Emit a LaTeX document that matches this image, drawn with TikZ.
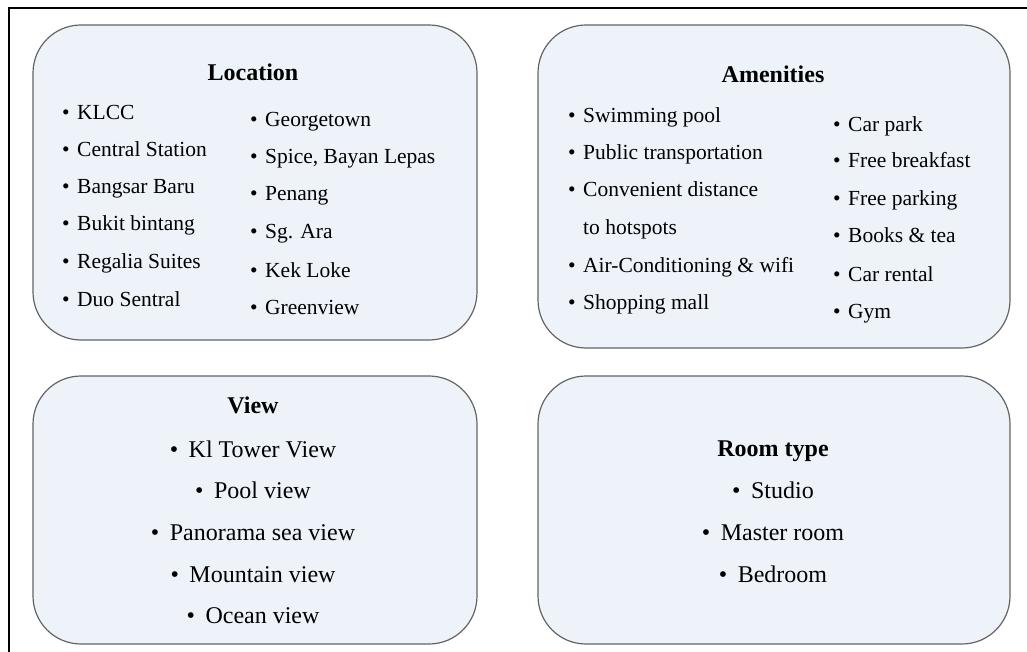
\documentclass[tikz,border=0pt]{standalone}
\usepackage{fontspec}
\setmainfont{Liberation Serif}
\definecolor{boxfill}{RGB}{238,243,250}
\definecolor{boxline}{RGB}{100,100,100}
\newcommand{\bitem}[1]{\makebox[15pt][l]{\textbullet}#1}
\newcommand{\citem}[1]{\makebox[19pt][l]{\textbullet}#1}
\begin{document}
\begin{tikzpicture}[x=1pt,y=-1pt,
  panel/.style={draw=boxline,fill=boxfill,line width=1.2pt,rounded corners=48pt},
  txt/.style={font=\fontsize{21.5}{25}\selectfont,inner sep=0pt},
  li/.style={txt,anchor=base west},
  ci/.style={inner sep=0pt,anchor=base,font=\fontsize{24}{28}\selectfont},
  ttl/.style={inner sep=0pt,anchor=base,font=\fontsize{24}{28}\selectfont\bfseries}]
\useasboundingbox (0,0) rectangle (1027,652);
\fill[white] (0,0) rectangle (1027,652);
\draw[line width=1.7pt] (9,652) -- (9,8) -- (1027,8);

% panels
\draw[panel] (33,25) rectangle (477,340);
\draw[panel] (538,25) rectangle (1010,348);
\draw[panel] (33,376) rectangle (477,644);
\draw[panel] (538,376) rectangle (1010,644);

% Location
\node[ttl] (loct) at (253,81) {Location};
\node[li] (l1) at (62,120) {\bitem{KLCC}};
\node[li] (l2) at (62,157) {\bitem{Central Station}};
\node[li] (l3) at (62,194) {\bitem{Bangsar Baru}};
\node[li] (l4) at (62,231) {\bitem{Bukit bintang}};
\node[li] (l5) at (62,268) {\bitem{Regalia Suites}};
\node[li] (l6) at (62,306) {\bitem{Duo Sentral}};
\node[li] (r1) at (250,127) {\bitem{Georgetown}};
\node[li] (r2) at (250,164) {\bitem{Spice, Bayan Lepas}};
\node[li] (r3) at (250,201) {\bitem{Penang}};
\node[li] (r4) at (250,239) {\bitem{Sg. Ara}};
\node[li] (r5) at (250,277) {\bitem{Kek Loke}};
\node[li] (r6) at (250,314) {\bitem{Greenview}};

% Amenities
\node[ttl] (amt) at (773,83) {Amenities};
\node[li] (a1) at (568,123) {\bitem{Swimming pool}};
\node[li] (a2) at (568,160) {\bitem{Public transportation}};
\node[li] (a3) at (568,197) {\bitem{Convenient distance}};
\node[li] (a3b) at (583,235) {to hotspots};
\node[li] (a4) at (568,272) {\bitem{Air-Conditioning \& wifi}};
\node[li] (a5) at (568,309) {\bitem{Shopping mall}};
\node[li] (b1) at (833,132) {\bitem{Car park}};
\node[li] (b2) at (833,168) {\bitem{Free breakfast}};
\node[li] (b3) at (833,206) {\bitem{Free parking}};
\node[li] (b4) at (833,243) {\bitem{Books \& tea}};
\node[li] (b5) at (833,281) {\bitem{Car rental}};
\node[li] (b6) at (833,318) {\bitem{Gym}};

% View
\node[ttl] (vt) at (253,413) {View};
\node[ci] (v1) at (253,457) {\citem{Kl Tower View}};
\node[ci] (v2) at (253,498) {\citem{Pool view}};
\node[ci] (v3) at (253,540) {\citem{Panorama sea view}};
\node[ci] (v4) at (253,582) {\citem{Mountain view}};
\node[ci] (v5) at (253,623) {\citem{Ocean view}};

% Room type
\node[ttl] (rt) at (773,456) {Room type};
\node[ci] (t1) at (773,498) {\citem{Studio}};
\node[ci] (t2) at (773,540) {\citem{Master room}};
\node[ci] (t3) at (773,582) {\citem{Bedroom}};
\end{tikzpicture}
\end{document}
